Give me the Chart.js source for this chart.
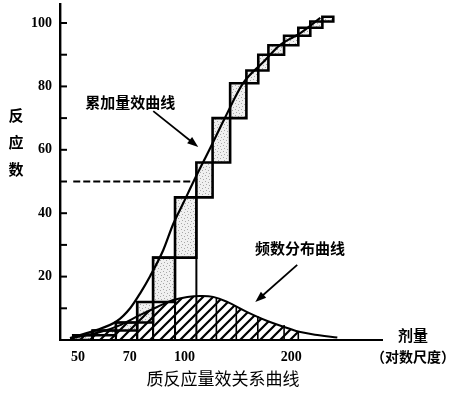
<!DOCTYPE html>
<html lang="zh">
<head>
  <meta charset="UTF-8" />
  <title>质反应量效关系曲线</title>
  <script src="https://cdn.jsdelivr.net/npm/chart.js"></script>
  <style>
    body {
      margin: 0;
      background: #fff;
    }
  </style>
</head>
<body>
  <canvas id="doseChart" width="463" height="397"></canvas>

  <script>
    // dose bins (log scale) and cumulative response of each bin
    const binEdges = [48.5, 55, 64, 73.5, 81.5, 94, 108, 120, 134.5, 149.5, 161.5, 172.5, 191, 209.5, 226.5, 245, 263];
    const cumResponse = [1.5, 3, 5.5, 12, 26, 45, 56, 70, 81, 85, 90, 93, 96, 98.5, 100.5, 102];

    // cumulative dose-effect curve
    const sigmoidDose = [47.5, 55.2, 64.5, 70.3, 75, 80, 87.1, 92.9, 99.2, 107.2, 118.2, 130.3, 146.5, 166.9, 186.3, 212.3, 241.7];
    const sigmoidResp = [0.6, 2.8, 6, 10.1, 14.8, 20.2, 28.4, 36.6, 43.2, 51.1, 60.6, 70.3, 81.1, 87.7, 93.1, 96.8, 101.6];

    // frequency distribution curve
    const freqDose = [47.5, 57.8, 65.8, 75, 83.7, 92.9, 101.8, 110.7, 120.5, 132, 150.3, 171.3, 195, 212.3, 240, 270];
    const freqResp = [0.5, 2.5, 4.7, 7.9, 10.4, 12.6, 13.6, 13.9, 13.6, 12, 8.8, 6, 3.8, 2.5, 1.5, 0.8];

    // bin lines inside the hatched area
    const freqEdgeDose = [123, 140, 161, 191, 209.5];
    const freqEdgeResp = [13.3, 10.4, 7.6, 4.7, 2.8];

    const xTicks = [50, 70, 100, 200];
    const yTicks = [20, 40, 60, 80, 100];
    const halfResponse = 50;
    const halfFrom = 48.5;
    const halfTo = 103.8;

    function makeHatch() {
      const c = document.createElement('canvas');
      c.width = 10; c.height = 10;
      const g = c.getContext('2d');
      g.strokeStyle = '#000';
      g.lineWidth = 2.2;
      g.beginPath();
      g.moveTo(-5, 5); g.lineTo(5, -5);
      g.moveTo(0, 10); g.lineTo(10, 0);
      g.moveTo(5, 15); g.lineTo(15, 5);
      g.stroke();
      return g.createPattern(c, 'repeat');
    }

    function makeStipple() {
      const c = document.createElement('canvas');
      c.width = 6; c.height = 6;
      const g = c.getContext('2d');
      g.fillStyle = 'rgba(0,0,0,0.06)';
      g.fillRect(0, 0, 6, 6);
      g.fillStyle = 'rgba(0,0,0,0.3)';
      [[1, 1], [4, 2], [2, 4], [5, 5]].forEach(p => g.fillRect(p[0], p[1], 1, 1));
      return g.createPattern(c, 'repeat');
    }

    const hatch = makeHatch();
    const stipple = makeStipple();
    const datasets = [];

    // hatched area under the frequency curve
    const hatchPts = freqDose.map((d, i) => ({ x: d, y: freqResp[i] }))
      .filter(p => p.x < freqEdgeDose[freqEdgeDose.length - 1]);
    hatchPts.push({ x: freqEdgeDose[freqEdgeDose.length - 1], y: freqEdgeResp[freqEdgeResp.length - 1] });
    datasets.push({
      data: hatchPts, borderWidth: 0, backgroundColor: hatch, fill: 'origin', tension: 0.4, order: 6
    });

    // vertical bin lines in the hatched part
    const edgePts = [];
    freqEdgeDose.forEach((d, i) => {
      edgePts.push({ x: d, y: 0 }, { x: d, y: freqEdgeResp[i] }, { x: d, y: null });
    });
    datasets.push({ data: edgePts, borderColor: '#000', borderWidth: 1.6, fill: false, order: 5 });

    // cumulative bars: full outline for low doses, stippled step box for each increment
    cumResponse.forEach((v, i) => {
      const x0 = binEdges[i], x1 = binEdges[i + 1];
      const prev = i === 0 ? 0 : cumResponse[i - 1];
      if (x0 < 100) {
        datasets.push({
          data: [{ x: x0, y: 0 }, { x: x0, y: v }, { x: x1, y: v }, { x: x1, y: 0 }],
          borderColor: '#000', borderWidth: 2, fill: false, tension: 0, order: 4
        });
      }
      datasets.push({
        data: [{ x: x0, y: prev }, { x: x0, y: v }, { x: x1, y: v }, { x: x1, y: prev }, { x: x0, y: prev }],
        borderColor: '#000', borderWidth: 2.6, backgroundColor: stipple, fill: 'shape', tension: 0, order: 3
      });
    });

    // 50% dashed line
    datasets.push({
      data: [{ x: halfFrom, y: halfResponse }, { x: halfTo, y: halfResponse }],
      borderColor: '#000', borderWidth: 2, borderDash: [7, 3], fill: false, order: 2
    });

    datasets.push({
      data: sigmoidDose.map((d, i) => ({ x: d, y: sigmoidResp[i] })),
      borderColor: '#000', borderWidth: 2.2, fill: false, cubicInterpolationMode: 'monotone', order: 1
    });
    datasets.push({
      data: freqDose.map((d, i) => ({ x: d, y: freqResp[i] })),
      borderColor: '#000', borderWidth: 2, fill: false, tension: 0.4, order: 1
    });

    function arrow(ctx, x1, y1, x2, y2) {
      const a = Math.atan2(y2 - y1, x2 - x1);
      ctx.beginPath();
      ctx.moveTo(x1, y1);
      ctx.lineTo(x2 - 6 * Math.cos(a), y2 - 6 * Math.sin(a));
      ctx.stroke();
      ctx.beginPath();
      ctx.moveTo(x2, y2);
      ctx.lineTo(x2 - 11 * Math.cos(a) + 4 * Math.sin(a), y2 - 11 * Math.sin(a) - 4 * Math.cos(a));
      ctx.lineTo(x2 - 11 * Math.cos(a) - 4 * Math.sin(a), y2 - 11 * Math.sin(a) + 4 * Math.cos(a));
      ctx.closePath();
      ctx.fill();
    }

    const extras = {
      id: 'extras',
      afterDraw(chart) {
        const { ctx, chartArea } = chart;
        const xs = chart.scales.x, ys = chart.scales.y;
        const px = d => xs.getPixelForValue(d);
        const py = v => ys.getPixelForValue(v);
        ctx.save();
        ctx.strokeStyle = '#000';
        ctx.fillStyle = '#000';

        // inward tick marks on the y axis
        ctx.lineWidth = 2;
        for (let v = 10; v <= 100; v += 10) {
          ctx.beginPath();
          ctx.moveTo(chartArea.left, py(v));
          ctx.lineTo(chartArea.left + 7, py(v));
          ctx.stroke();
        }

        ctx.textAlign = 'center';
        ctx.textBaseline = 'middle';
        ctx.font = 'bold 15px "Noto Sans CJK SC"';
        ctx.fillText('累加量效曲线', px(70.3), py(75));
        ctx.fillText('频数分布曲线', px(212), py(29));

        ctx.lineWidth = 1.8;
        arrow(ctx, px(81.6), py(72.2), px(109.3), py(60.9));
        arrow(ctx, px(208), py(23.7), px(158.4), py(12));

        // y axis title, written top to bottom
        ['反', '应', '数'].forEach((ch, i) => {
          ctx.fillText(ch, chartArea.left - 44, py(71) + i * 27);
        });

        ctx.fillText('剂量', chartArea.right + 31, chartArea.bottom - 5);
        ctx.font = 'bold 14px "Noto Sans CJK SC"';
        ctx.fillText('（对数尺度）', chartArea.right + 31, chartArea.bottom + 17);

        ctx.font = '17px "Noto Sans CJK SC"';
        ctx.fillText('质反应量效关系曲线', 223, 379);
        ctx.restore();
      }
    };

    const tickFont = { family: '"Liberation Serif", serif', size: 14, weight: 'bold' };

    new Chart(document.getElementById('doseChart'), {
      type: 'line',
      data: { datasets },
      options: {
        responsive: false,
        animation: false,
        layout: { padding: { left: 0, right: 81, top: 4, bottom: 0 } },
        plugins: { legend: { display: false }, tooltip: { enabled: false } },
        elements: { point: { radius: 0 } },
        scales: {
          x: {
            type: 'logarithmic',
            min: 44.5,
            max: 361,
            grid: { display: false, drawTicks: false },
            border: { display: true, color: '#000', width: 2 },
            afterBuildTicks: s => { s.ticks = xTicks.map(v => ({ value: v })); },
            afterFit: s => { s.height = 57; s.paddingLeft = 0; s.paddingRight = 0; },
            ticks: { color: '#000', font: tickFont, padding: 9, autoSkip: false, maxRotation: 0, callback: v => String(v) }
          },
          y: {
            type: 'linear',
            min: 0,
            max: 106,
            grid: { display: false, drawTicks: false },
            border: { display: true, color: '#000', width: 2.4 },
            afterBuildTicks: s => { s.ticks = yTicks.map(v => ({ value: v })); },
            afterFit: s => { s.width = 60; s.paddingTop = 0; s.paddingBottom = 0; },
            ticks: { color: '#000', font: tickFont, padding: 8, callback: v => String(v) }
          }
        }
      },
      plugins: [extras]
    });
  </script>
</body>
</html>
